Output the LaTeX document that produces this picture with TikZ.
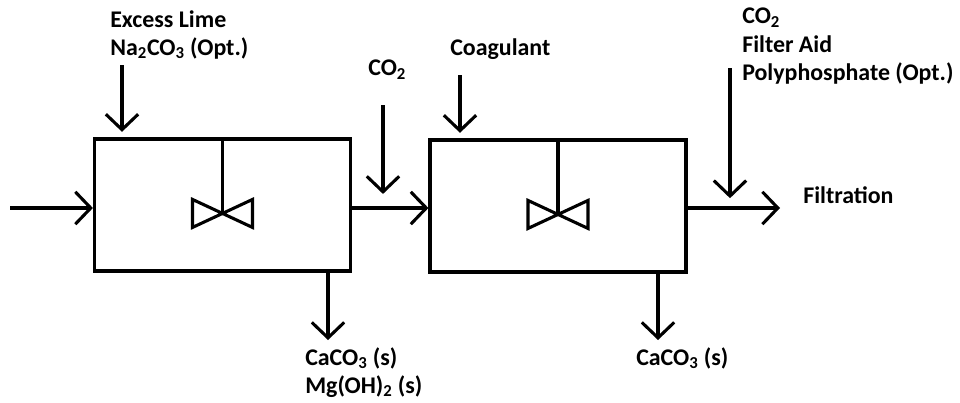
\documentclass[tikz,border=0pt]{standalone}
\usepackage{fontspec}
\setmainfont{Carlito}
\usetikzlibrary{arrows.meta}

\tikzset{
  tank/.style={draw, line width=2.2pt, minimum width=6.4cm, minimum height=3.3cm, inner sep=0pt},
  flow/.style={line width=2.2pt, -{Straight Barb[length=11pt,width=23pt,line width=2.2pt]}},
  lbl/.style={font=\bfseries\fontsize{17}{20}\selectfont, inner sep=0pt, align=left, anchor=north west}
}

\begin{document}
\begin{tikzpicture}[x=0.025cm,y=-0.025cm]
\useasboundingbox (0,0) rectangle (960,402);

% reactors
\node[tank] (r1) at (222.5,205) {};
\node[tank] (r2) at (558,206) {};

% mixers
\foreach \r in {r1,r2}{
\draw[line width=2.2pt] (\r.north) -- ++(0,76) coordinate (hub);
\draw[line width=2.2pt, line join=miter] (hub) -- ++(-30,-14) -- ++(0,28) -- cycle;
\draw[line width=2.2pt, line join=miter] (hub) -- ++(30,-14) -- ++(0,28) -- cycle;
}

% labels
\node[lbl] (lime) at (110,10) {Excess Lime\\Na\textsubscript{2}CO\textsubscript{3} (Opt.)};
\node[lbl] (co2a) at (368,60) {CO\textsubscript{2}};
\node[lbl] (coag) at (450,38) {Coagulant};
\node[lbl] (aid) at (742,8) {CO\textsubscript{2}\\Filter Aid\\Polyphosphate (Opt.)};
\node[lbl, anchor=west] (filt) at (803,195) {Filtration};
\node[lbl] (sl1) at (305,347) {CaCO\textsubscript{3} (s)\\Mg(OH)\textsubscript{2} (s)};
\node[lbl] (sl2) at (636,347) {CaCO\textsubscript{3} (s)};

% feed points
\coordinate (feed) at (10,208);
\coordinate (c1) at (122,65);
\coordinate (c2) at (383,105);
\coordinate (c3) at (460,75);
\coordinate (c4) at (730,68);
\coordinate (s1) at (328,340);
\coordinate (s2) at (658,340);
\coordinate (out) at (780,208);

% streams
\draw[flow] (feed) -- (feed -| r1.west);
\draw[flow] (r1.east |- feed) -- (r2.west |- feed);
\draw[flow] (r2.east |- feed) -- (out);
\draw[flow] (c1) -- ([yshift=4pt]c1 |- r1.north);
\draw[flow] (c2) -- ([yshift=10pt]c2 |- feed);
\draw[flow] (c3) -- ([yshift=4pt]c3 |- r2.north);
\draw[flow] (c4) -- ([yshift=7pt]c4 |- feed);
\draw[flow] (s1 |- r1.south) -- (s1);
\draw[flow] (s2 |- r2.south) -- (s2);

\end{tikzpicture}
\end{document}
